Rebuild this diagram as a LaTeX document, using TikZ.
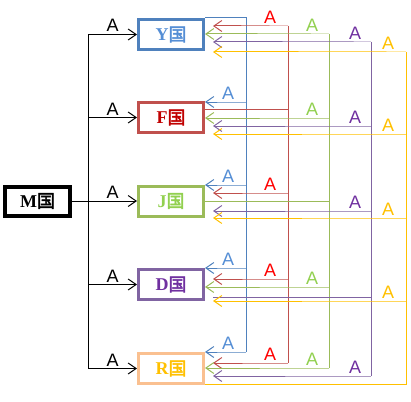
\documentclass[tikz,border=0pt]{standalone}
\usepackage{fontspec}
\setmainfont{Liberation Serif}
\setsansfont{Liberation Sans}
\newfontfamily\cjk[AutoFakeBold=2.5]{Noto Sans CJK SC}
\usetikzlibrary{arrows.meta}
\definecolor{lnblue}{HTML}{4F81BD}
\definecolor{lnred}{HTML}{C0504D}
\definecolor{lngreen}{HTML}{9BBB59}
\definecolor{lnpurple}{HTML}{8064A2}
\definecolor{lnyellow}{HTML}{FFC000}
\definecolor{boxorange}{HTML}{FAC090}
\definecolor{txtblue}{HTML}{558ED5}
\definecolor{txtred}{HTML}{FF0000}
\definecolor{txtdark}{HTML}{C00000}
\definecolor{txtgreen}{HTML}{92D050}
\definecolor{txtpurple}{HTML}{7030A0}
\newcommand{\guo}{{\cjk 国}}

\begin{document}
\begin{tikzpicture}[x=1pt,y=-1pt,
  land/.style={draw=#1,line width=3pt,minimum width=65pt,minimum height=30pt,inner sep=0pt,font=\bfseries\fontsize{18}{18}\selectfont},
  lbl/.style={above,inner sep=2pt,font=\sffamily\fontsize{18}{18}\selectfont},
  ln/.style={line width=1pt},
  ar/.style={ln,-{Straight Barb[length=8pt,width=11pt]}},
  gap/.style={shorten >=8pt}]
\useasboundingbox (0,0) rectangle (411,401);
% countries
\node[land=black,line width=4pt,minimum height=29pt] (M) at (37.5,201) {M\guo};
\node[land=lnblue,text=txtblue] (Y) at (171,34.5) {Y\guo};
\node[land=lnred,text=txtdark] (F) at (171,117.5) {F\guo};
\node[land=lngreen,text=txtgreen] (J) at (171,201) {J\guo};
\node[land=lnpurple,text=txtpurple] (D) at (171,284.5) {D\guo};
\node[land=boxorange,text=lnyellow] (R) at (171,368.5) {R\guo};
% M to all
\coordinate (tk) at (88,0);
\draw[ln] (M) -- (tk |- M);
\draw[ln] (tk |- Y) -- (tk |- R);
\draw[ar] (tk |- Y) -- (Y) node[lbl,midway]{A};
\draw[ar] (tk |- F) -- (F) node[lbl,midway]{A};
\draw[ar] (tk |- J) -- (J) node[lbl,midway]{A};
\draw[ar] (tk |- D) -- (D) node[lbl,midway]{A};
\draw[ar] (tk |- R) -- (R) node[lbl,midway]{A};
% Y to others
\coordinate (vb) at (246,0);
\draw[ln,lnblue] (Y.east |- 0,18) -| (vb |- 0,352);
\draw[ar,lnblue] (vb |- 0,102) -- ++(-18,0) node[lbl,text=txtblue]{A} -- (F.east |- 0,102);
\draw[ar,lnblue] (vb |- 0,185) -- ++(-18,0) node[lbl,text=txtblue]{A} -- (J.east |- 0,185);
\draw[ar,lnblue] (vb |- 0,268) -- ++(-18,0) node[lbl,text=txtblue]{A} -- (D.east |- 0,268);
\draw[ar,lnblue] (vb |- 0,352) -- ++(-18,0) node[lbl,text=txtblue]{A} -- (R.east |- 0,352);
% F to others
\coordinate (vr) at (288,0);
\draw[ln,lnred] (F.east |- 0,109) -- (vr |- 0,109);
\draw[ln,lnred] (vr |- 0,26) -- (vr |- 0,363);
\draw[ar,gap,lnred] (vr |- 0,26) -- ++(-18,0) node[lbl,text=txtred]{A} -- (Y.east |- 0,26);
\draw[ar,gap,lnred] (vr |- 0,193) -- ++(-18,0) node[lbl,text=txtred]{A} -- (J.east |- 0,193);
\draw[ar,gap,lnred] (vr |- 0,279) -- ++(-18,0) node[lbl,text=txtred]{A} -- (D.east |- 0,279);
\draw[ar,gap,lnred] (vr |- 0,363) -- ++(-18,0) node[lbl,text=txtred]{A} -- (R.east |- 0,363);
% J to others
\coordinate (vg) at (329,0);
\draw[ln,lngreen] (J.east) -- (vg |- J.east);
\draw[ln,lngreen] (vg |- 0,34) -- (vg |- 0,368);
\draw[ar,lngreen] (vg |- 0,34) -- ++(-17,0) node[lbl,text=txtgreen]{A} -- (Y.east |- 0,34);
\draw[ar,lngreen] (vg |- 0,118) -- ++(-17,0) node[lbl,text=txtgreen]{A} -- (F.east |- 0,118);
\draw[ar,lngreen] (vg |- 0,287) -- ++(-17,0) node[lbl,text=txtgreen]{A} -- (D.east |- 0,287);
\draw[ar,lngreen] (vg |- 0,368) -- ++(-17,0) node[lbl,text=txtgreen]{A} -- (R.east |- 0,368);
% D to others
\coordinate (vp) at (371,0);
\draw[ln,lnpurple,shorten <=8pt] (D.east |- 0,297) -- (vp |- 0,297);
\draw[ln,lnpurple] (vp |- 0,42) -- (vp |- 0,376);
\draw[ar,gap,lnpurple] (vp |- 0,42) -- ++(-16,0) node[lbl,text=txtpurple]{A} -- (Y.east |- 0,42);
\draw[ar,gap,lnpurple] (vp |- 0,126) -- ++(-16,0) node[lbl,text=txtpurple]{A} -- (F.east |- 0,126);
\draw[ar,gap,lnpurple] (vp |- 0,211) -- ++(-16,0) node[lbl,text=txtpurple]{A} -- (J.east |- 0,211);
\draw[ar,gap,lnpurple] (vp |- 0,376) -- ++(-16,0) node[lbl,text=txtpurple]{A} -- (R.east |- 0,376);
% R to others
\coordinate (vy) at (406,0);
\draw[ln,lnyellow] (R.east |- 0,384) -| (vy |- 0,52);
\draw[ar,gap,lnyellow] (vy |- 0,52) -- ++(-18,0) node[lbl]{A} -- (Y.east |- 0,52);
\draw[ar,gap,lnyellow] (vy |- 0,134) -- ++(-18,0) node[lbl]{A} -- (F.east |- 0,134);
\draw[ar,gap,lnyellow] (vy |- 0,218) -- ++(-18,0) node[lbl]{A} -- (J.east |- 0,218);
\draw[ar,gap,lnyellow] (vy |- 0,301) -- ++(-18,0) node[lbl]{A} -- (D.east |- 0,301);
\end{tikzpicture}
\end{document}
